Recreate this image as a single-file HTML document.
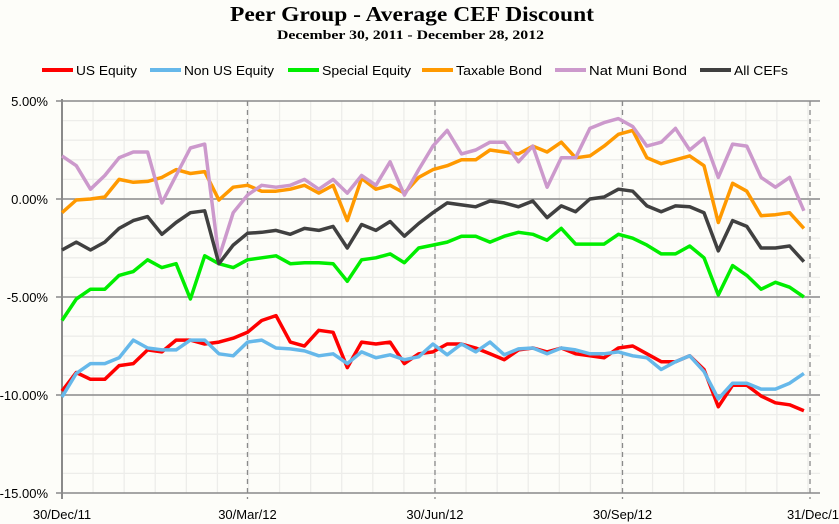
<!DOCTYPE html>
<html><head><meta charset="utf-8"><style>
html,body{margin:0;padding:0;background:#fdfdf9;}
svg{display:block;font-family:"Liberation Sans",sans-serif;}
</style></head><body>
<svg id="chart" width="839" height="524" viewBox="0 0 839 524" xmlns="http://www.w3.org/2000/svg">
<rect x="0" y="0" width="839" height="524" fill="#fdfdf9"/>
<text x="230" y="21" textLength="364" lengthAdjust="spacingAndGlyphs" font-family="Liberation Serif,serif" font-weight="bold" font-size="21">Peer Group - Average CEF Discount</text>
<text x="277" y="39" textLength="267" lengthAdjust="spacingAndGlyphs" font-family="Liberation Serif,serif" font-weight="bold" font-size="13">December 30, 2011 - December 28, 2012</text>
<g id="grid"></g>
<g id="axes"></g>
<g id="series"></g>
<g id="legend"></g>
</svg>
<script>
const seriesNames = ["US Equity","Non US Equity","Special Equity","Taxable Bond","Nat Muni Bond","All CEFs"];
const seriesColors = ["#ff0000","#66b8ea","#00ee00","#ff9900","#cc99cc","#404040"];
const usEquity = [-9.8,-8.85,-9.2,-9.2,-8.5,-8.4,-7.7,-7.8,-7.2,-7.2,-7.4,-7.3,-7.1,-6.8,-6.2,-5.95,-7.3,-7.5,-6.7,-6.8,-8.6,-7.3,-7.4,-7.3,-8.4,-7.9,-7.8,-7.4,-7.4,-7.6,-7.9,-8.2,-7.7,-7.6,-7.8,-7.6,-7.9,-8.0,-8.1,-7.6,-7.5,-7.9,-8.3,-8.3,-8.0,-8.7,-10.6,-9.5,-9.5,-10.05,-10.4,-10.5,-10.8];
const nonUsEquity = [-10.1,-8.9,-8.4,-8.4,-8.1,-7.2,-7.6,-7.7,-7.7,-7.2,-7.2,-7.9,-8.0,-7.3,-7.2,-7.6,-7.65,-7.75,-8.0,-7.9,-8.4,-7.8,-8.1,-7.95,-8.2,-8.05,-7.4,-7.95,-7.4,-7.8,-7.3,-7.95,-7.65,-7.6,-7.9,-7.6,-7.7,-7.9,-7.9,-7.8,-8.0,-8.1,-8.7,-8.3,-8.0,-8.8,-10.2,-9.4,-9.4,-9.7,-9.7,-9.4,-8.9];
const specialEquity = [-6.2,-5.1,-4.6,-4.6,-3.9,-3.7,-3.1,-3.5,-3.3,-5.1,-2.9,-3.3,-3.5,-3.1,-3.0,-2.9,-3.3,-3.25,-3.25,-3.3,-4.2,-3.1,-3.0,-2.8,-3.25,-2.5,-2.35,-2.2,-1.9,-1.9,-2.2,-1.9,-1.7,-1.8,-2.1,-1.5,-2.3,-2.3,-2.3,-1.8,-2.0,-2.35,-2.8,-2.8,-2.4,-3.0,-4.9,-3.4,-3.9,-4.6,-4.25,-4.5,-5.0];
const taxableBond = [-0.7,-0.05,0,0.1,1.0,0.85,0.9,1.1,1.5,1.3,1.4,-0.05,0.6,0.7,0.4,0.4,0.5,0.7,0.3,0.7,-1.1,1.05,0.5,0.7,0.3,1.1,1.5,1.7,2.0,2.0,2.5,2.4,2.3,2.7,2.4,2.9,2.1,2.2,2.7,3.3,3.5,2.1,1.8,2.0,2.2,1.7,-1.2,0.8,0.4,-0.85,-0.8,-0.7,-1.5];
const natMuniBond = [2.2,1.7,0.5,1.2,2.1,2.4,2.4,-0.2,1.2,2.6,2.8,-3.0,-0.7,0.2,0.7,0.6,0.7,1.0,0.5,1.0,0.3,1.2,0.7,1.9,0.2,1.5,2.7,3.5,2.3,2.5,2.9,2.9,1.9,2.7,0.6,2.1,2.1,3.6,3.9,4.1,3.7,2.7,2.9,3.6,2.5,3.1,1.1,2.8,2.7,1.1,0.6,1.1,-0.6];
const allCefs = [-2.6,-2.2,-2.6,-2.2,-1.5,-1.1,-0.9,-1.8,-1.2,-0.7,-0.6,-3.3,-2.35,-1.75,-1.7,-1.6,-1.8,-1.5,-1.6,-1.4,-2.5,-1.3,-1.6,-1.15,-1.9,-1.25,-0.7,-0.2,-0.3,-0.4,-0.1,-0.2,-0.4,-0.1,-0.95,-0.35,-0.65,0,0.1,0.5,0.4,-0.35,-0.65,-0.35,-0.4,-0.7,-2.65,-1.1,-1.4,-2.5,-2.5,-2.4,-3.2];
const yTicks = [5,0,-5,-10,-15];
const yTickLabels = ["5.00%","0.00%","-5.00%","-10.00%","-15.00%"];
const xTickDays = [0,91,183,275,367];
const xTickLabels = ["30/Dec/11","30/Mar/12","30/Jun/12","30/Sep/12","31/Dec/1"];

const NS="http://www.w3.org/2000/svg";
const L=62,R=820,T=101,B=493;
const pxPerDay=(810-62)/367;
function xDay(d){return L+d*pxPerDay;}
function xWeek(i){return xDay(i*7);}
function yVal(v){return T+(5-v)*(B-T)/20;}
function mk(tag,attrs,parent){const e=document.createElementNS(NS,tag);for(const k in attrs)e.setAttribute(k,attrs[k]);parent.appendChild(e);return e;}

const grid=document.getElementById('grid');
for(let v=5;v>=-15;v--){
  if(v%5===0)continue;
  const ln=mk('line',{x1:L,x2:R,y1:yVal(v),y2:yVal(v),stroke:'#ededea','stroke-width':1.3},grid);
  
  
}
for(let d=0;d<=380;d+=15.25){
  const x=xDay(d);if(x>R)break;
  const ln=mk('line',{x1:x,x2:x,y1:T,y2:B,stroke:'#ededea','stroke-width':1.3},grid);
  
  
}
const axes=document.getElementById('axes');
yTicks.forEach((v,i)=>{
  const ln=mk('line',{x1:L-6,x2:R,y1:yVal(v),y2:yVal(v),stroke:'#8a8a8a','stroke-width':1.5},axes);
  
  
  const t=mk('text',{x:48,y:yVal(v)+5,'text-anchor':'end','font-size':13,fill:'#000'},axes);
  t.textContent=yTickLabels[i];
  
  
});
xTickDays.forEach((d,i)=>{
  const x=xDay(d);
  if(i>0){
    const ln=mk('line',{x1:x,x2:x,y1:T,y2:B+6,stroke:'#8a8a8a','stroke-width':1.3,'stroke-dasharray':'5,4'},axes);
    
    
  }
  const t=mk('text',{x:i===xTickDays.length-1?839:x,y:519,'text-anchor':i===xTickDays.length-1?'end':'middle','font-size':13,fill:'#000'},axes);
  t.textContent=xTickLabels[i];
  
  
});
const yAxis=mk('line',{x1:L,x2:L,y1:T-2,y2:B+6,stroke:'#8a8a8a','stroke-width':2},axes);



const allData=[usEquity,nonUsEquity,specialEquity,taxableBond,natMuniBond,allCefs];
const seriesG=document.getElementById('series');
[0,1,2,3,4,5].forEach(s=>{
  const pts=allData[s].map((v,i)=>xWeek(i).toFixed(1)+','+yVal(v).toFixed(1)).join(' ');
  const pl=mk('polyline',{points:pts,fill:'none',stroke:seriesColors[s],'stroke-width':3.5,'stroke-linejoin':'round'},seriesG);
  
  
});

const legend=document.getElementById('legend');
const legX=[42,150,288,422,555,700];
const legW=[61,90,89,86,98,54];
seriesNames.forEach((n,i)=>{
  const g=mk('g',{},legend);
  
  
  mk('line',{x1:legX[i],x2:legX[i]+31,y1:70,y2:70,stroke:seriesColors[i],'stroke-width':4},g);
  const t=mk('text',{x:legX[i]+34,y:75,'font-size':13,fill:'#000',textLength:legW[i],lengthAdjust:'spacingAndGlyphs'},g);
  t.textContent=n;
  
  
});
</script>
</body></html>
